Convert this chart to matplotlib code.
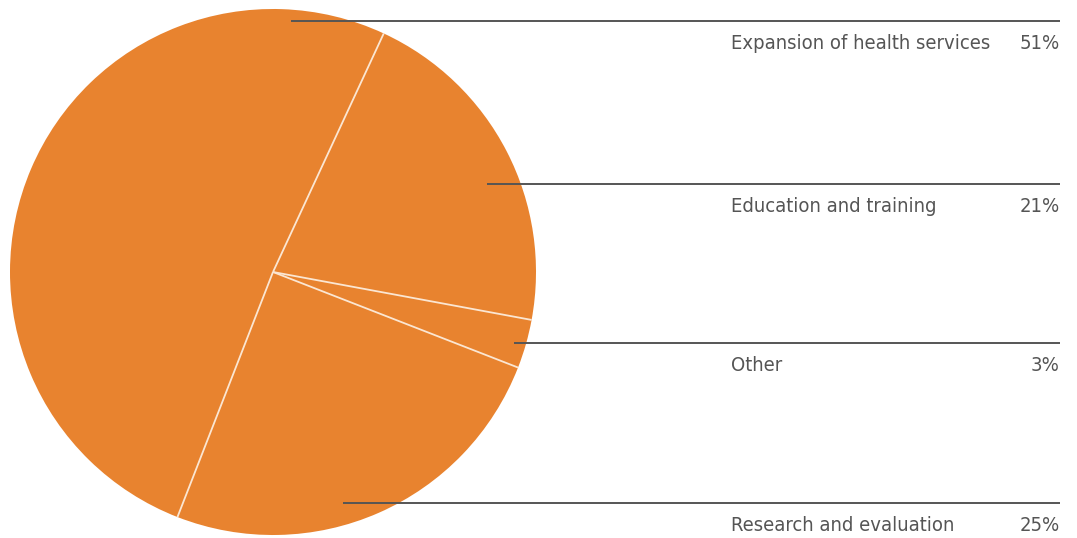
import matplotlib
matplotlib.use("Agg")
import numpy as np
import matplotlib.pyplot as plt
from matplotlib import font_manager

# spending shares, in the order the wedges run (counter-clockwise)
categories = ["Expansion of health services", "Research and evaluation",
              "Other", "Education and training"]
shares = [51, 25, 3, 21]

# label rows top to bottom
label_order = ["Expansion of health services", "Education and training",
               "Other", "Research and evaluation"]

W, H = 1077, 538
fig = plt.figure(figsize=(W / 100, H / 100), dpi=100)
ax = fig.add_axes([0, 0, 1, 1])

orange = "#e8832f"
grey = "#555555"

cx, cy, r = 273, 272, 263
wedges, _ = ax.pie(shares, startangle=65.1, counterclock=True,
                   center=(cx, cy), radius=r, colors=[orange] * 4,
                   wedgeprops=dict(linewidth=0), frame=True)
ax.set_xlim(0, W)
ax.set_ylim(H, 0)
ax.set_aspect("equal")
ax.axis("off")

# pie flips with the inverted y axis, so mirror it back
for w in wedges:
    t1, t2 = w.theta1, w.theta2
    w.set_theta1(-t2)
    w.set_theta2(-t1)
    # thin light separators between wedges
    a = np.radians(-t2)
    ax.plot([cx, cx + r * np.cos(a)], [cy, cy + r * np.sin(a)],
            color="#fbe6d2", lw=1.3, solid_capstyle="butt")

# leader lines: start x inside the wedge, row y
line_start = [291, 487, 514, 343]
line_y = [21, 184, 343, 503]
x_text, x_end = 731, 1060

names = {f.name for f in font_manager.fontManager.ttflist}
narrow = "Liberation Sans Narrow" if "Liberation Sans Narrow" in names else "DejaVu Sans"
font = dict(family=[narrow, "DejaVu Sans"], stretch="condensed",
            fontsize=14.5, color=grey, va="baseline")

for name, xs, y in zip(label_order, line_start, line_y):
    val = shares[categories.index(name)]
    ax.plot([xs, x_end], [y, y], color=grey, lw=1.4, solid_capstyle="butt")
    ax.text(x_text, y + 28, name, ha="left", **font)
    ax.text(x_end, y + 28, f"{val}%", ha="right", **font)

fig.savefig("out.png", dpi=100, facecolor="white")
